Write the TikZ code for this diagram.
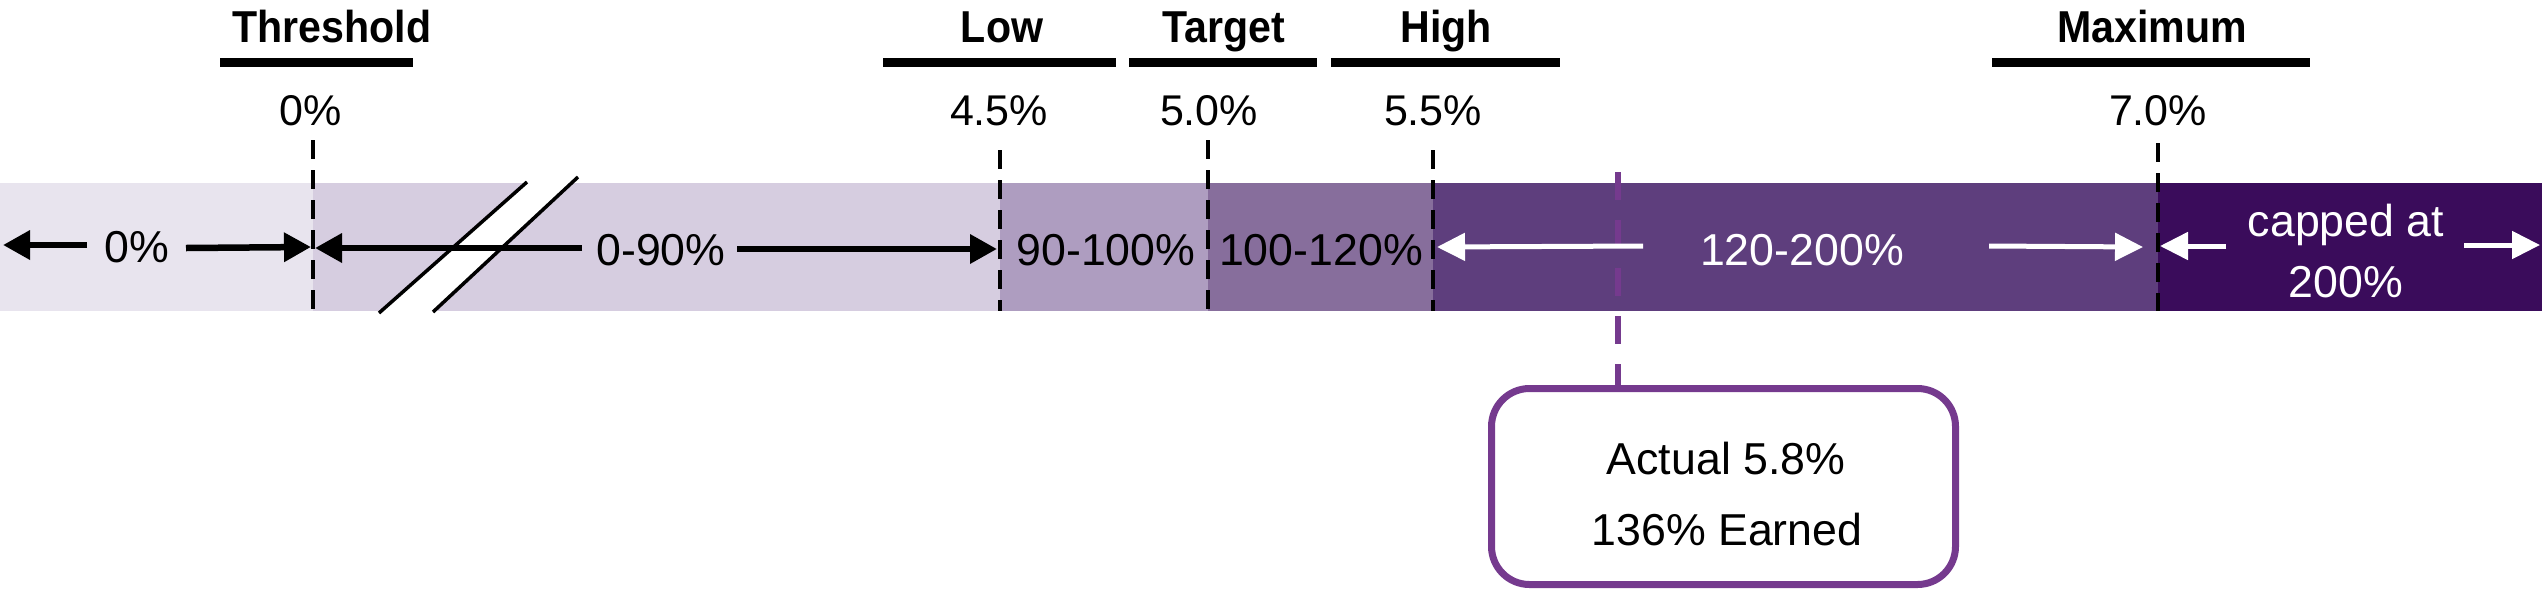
\documentclass[tikz,border=0pt]{standalone}
\usepackage{fontspec}
\setmainfont{Liberation Sans}
\newfontfamily\headfont[FakeStretch=0.92]{Liberation Sans Bold}
\usetikzlibrary{arrows.meta}
\definecolor{segA}{HTML}{E8E4EE}
\definecolor{segB}{HTML}{D6CDE0}
\definecolor{segC}{HTML}{AE9DC0}
\definecolor{segD}{HTML}{876E9C}
\definecolor{segE}{HTML}{5E3E7D}
\definecolor{segF}{HTML}{3A0C5B}
\definecolor{purp}{HTML}{753A8E}
\begin{document}
\begin{tikzpicture}[x=1pt,y=-1pt,
  hdr/.style={font=\headfont\fontsize{44.7}{50}\selectfont, anchor=base, inner sep=0pt},
  val/.style={font=\fontsize{43}{50}\selectfont, anchor=base, inner sep=0pt},
  lbl/.style={font=\fontsize{44.7}{50}\selectfont, anchor=base, inner sep=0pt},
  hbar/.style={line width=9pt},
  tickline/.style={line width=4.5pt, dash pattern=on 19pt off 11pt},
  barrow/.style={line width=6.5pt, -{Triangle[length=27pt,width=28pt]}},
  warrow/.style={white, line width=5pt, -{Triangle[length=28pt,width=27pt]}},
]
\useasboundingbox (0,0) rectangle (2542,590);
% bar segments
\fill[segA] (0,183) rectangle (313,311);
\fill[segB] (313,183) rectangle (1000,311);
\fill[segC] (1000,183) rectangle (1208,311);
\fill[segD] (1208,183) rectangle (1433,311);
\fill[segE] (1433,183) rectangle (2158,311);
\fill[segF] (2158,183) rectangle (2542,311);
% break mark
\fill[white] (527,182) -- (578,177) -- (433,312) -- (379,313) -- cycle;
\draw[line width=3.5pt] (527,182) -- (379,313);
\draw[line width=3.5pt] (578,177) -- (433,312);
% headers
\node[hdr] (hThr) at (332,42) {Threshold};
\node[hdr] (hLow) at (1002,42) {Low};
\node[hdr] (hTar) at (1224,42) {Target};
\node[hdr] (hHigh) at (1446,42) {High};
\node[hdr] (hMax) at (2152,42) {Maximum};
\draw[hbar] (220,62.5) -- (413,62.5);
\draw[hbar] (883,62.5) -- (1116,62.5);
\draw[hbar] (1129,62.5) -- (1317,62.5);
\draw[hbar] (1331,62.5) -- (1560,62.5);
\draw[hbar] (1992,62.5) -- (2310,62.5);
% values
\node[val] (v0) at (311,125) {0\%};
\node[val] (v45) at (999,125) {4.5\%};
\node[val] (v50) at (1209,125) {5.0\%};
\node[val] (v55) at (1433,125) {5.5\%};
\node[val] (v70) at (2158,125) {7.0\%};
% dashed ticks
\coordinate (t0top) at (313,140); \coordinate (t0bot) at (313,311);
\coordinate (t45top) at (1000,150); \coordinate (t45bot) at (1000,311);
\coordinate (t50top) at (1208,140); \coordinate (t50bot) at (1208,311);
\coordinate (t55top) at (1433,150); \coordinate (t55bot) at (1433,311);
\coordinate (t70top) at (2158,143); \coordinate (t70bot) at (2158,311);
\draw[tickline] (t0top) -- (t0bot);
\draw[tickline] (t45top) -- (t45bot);
\draw[tickline] (t50top) -- (t50bot);
\draw[tickline] (t55top) -- (t55bot);
\draw[tickline] (t70top) -- (t70bot);
% bar labels
\node[lbl] (l0) at (137,262) {0\%};
\node[lbl] (l090) at (661,265) {0-90\%};
\node[lbl] (l90) at (1106,265) {90-100\%};
\node[lbl] (l100) at (1321,265) {100-120\%};
\node[lbl, text=white] (l120) at (1802,265) {120-200\%};
\node[lbl, text=white] (lcap) at (2346,236) {capped at};
\node[lbl, text=white] (l200) at (2346,297) {200\%};
% actual marker and box
\coordinate (act) at (1618,172);
\node[draw=purp, line width=7pt, rounded corners=38pt, minimum width=464pt, minimum height=196pt, inner sep=0pt] (box) at (1723.5,486.5) {};
\draw[purp, line width=6pt, dash pattern=on 28pt off 20pt] (act) -- (act |- box.north);
\node[lbl] (act1) at (1726,474) {Actual 5.8\%};
\node[lbl] (act2) at (1727,545) {136\% Earned};
% arrows
\coordinate (a1s) at (87,245); \coordinate (a1e) at (3,245);
\coordinate (a2s) at (186,248); \coordinate (a2e) at (311,247);
\coordinate (a3s) at (582,248); \coordinate (a3e) at (315,248);
\coordinate (a4s) at (737,249); \coordinate (a4e) at (997,249);
\coordinate (a5s) at (1643,246); \coordinate (a5e) at (1437,247);
\coordinate (a6s) at (1989,246); \coordinate (a6e) at (2143,247);
\coordinate (a7s) at (2226,246); \coordinate (a7e) at (2160,246);
\coordinate (a8s) at (2464,245); \coordinate (a8e) at (2540,245);
\draw[barrow] (a1s) -- (a1e);
\draw[barrow] (a2s) -- (a2e);
\draw[barrow] (a3s) -- (a3e);
\draw[barrow] (a4s) -- (a4e);
\draw[warrow] (a5s) -- (a5e);
\draw[warrow] (a6s) -- (a6e);
\draw[warrow] (a7s) -- (a7e);
\draw[warrow] (a8s) -- (a8e);
\end{tikzpicture}
\end{document}
